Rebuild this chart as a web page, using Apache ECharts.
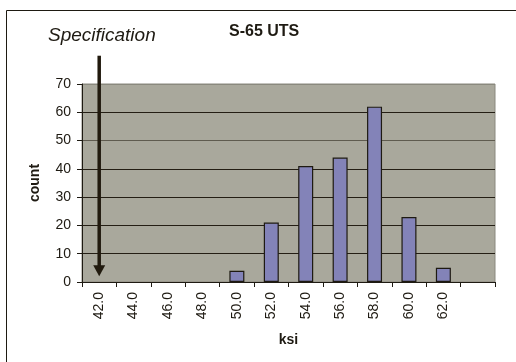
<!DOCTYPE html>
<html>
<head>
<meta charset="utf-8">
<script src="https://cdn.jsdelivr.net/npm/echarts@6/dist/echarts.min.js"></script>
<style>
  html, body { margin: 0; padding: 0; background: #ffffff; }
  #chart { width: 516px; height: 362px; }
</style>
</head>
<body>
<div id="chart"></div>
<script>
// Histogram bins (ksi) and counts per bin; the last bin is the open "more" bin
const bins = ['42.0', '44.0', '46.0', '48.0', '50.0', '52.0', '54.0', '56.0', '58.0', '60.0', '62.0', ''];
const counts = [0, 0, 0, 0, 4, 21, 41, 44, 62, 23, 5, 0];

// Count axis range
const countMin = 0;
const countMax = 70;
const countStep = 10;

// Specification marker: a downward arrow at the 42.0 bin
const specBin = '42.0';
const specFrom = 80;
const specTo = 4;

const FONT = '"Liberation Sans", Arial, sans-serif';
const INK = '#1e1a12';
const GRID_DARK = '#241e14';

const chart = echarts.init(document.getElementById('chart'), null, { renderer: 'canvas' });

// Empty bins keep their zero value but draw no outline
const barData = counts.map(v => ({
  value: v,
  itemStyle: v === 0 ? { borderWidth: 0 } : {}
}));

chart.setOption({
  animation: false,
  backgroundColor: '#ffffff',
  textStyle: { fontFamily: FONT, color: INK },
  title: {
    text: 'S-65 UTS',
    left: 229,
    top: 24,
    padding: 0,
    textStyle: { fontFamily: FONT, fontSize: 16, fontWeight: 'bold', color: INK }
  },
  graphic: [
    {
      type: 'rect',
      silent: true,
      z: -1,
      shape: { x: 6.5, y: 10.5, width: 600, height: 500 },
      style: { fill: 'none', stroke: INK, lineWidth: 1 }
    },
    {
      type: 'text',
      silent: true,
      style: {
        x: 48, y: 35.5,
        text: 'Specification',
        fontFamily: FONT, fontSize: 19, fontStyle: 'italic',
        fill: INK, verticalAlign: 'middle', align: 'left'
      }
    }
  ],
  grid: {
    left: 82, right: 21, top: 84, bottom: 80,
    show: true,
    backgroundColor: '#a9a89c',
    borderColor: '#8a897e',
    borderWidth: 1
  },
  xAxis: {
    type: 'category',
    data: bins,
    boundaryGap: true,
    name: 'ksi',
    nameLocation: 'middle',
    nameGap: 51,
    nameTextStyle: { fontFamily: FONT, fontSize: 14, fontWeight: 'bold', color: INK },
    axisLine: { lineStyle: { color: INK, width: 1 } },
    axisTick: { show: true, interval: 0, alignWithLabel: false, length: 5, lineStyle: { color: INK } },
    axisLabel: { interval: 0, rotate: 90, margin: 10, fontSize: 14, fontFamily: FONT, color: INK },
    splitLine: { show: false }
  },
  yAxis: {
    type: 'value',
    min: countMin,
    max: countMax,
    interval: countStep,
    name: 'count',
    nameLocation: 'middle',
    nameGap: 40,
    nameRotate: 90,
    nameTextStyle: { fontFamily: FONT, fontSize: 14, fontWeight: 'bold', color: INK },
    axisLine: { show: true, lineStyle: { color: INK, width: 1 } },
    axisTick: { show: true, length: 5, lineStyle: { color: INK } },
    axisLabel: { margin: 11, fontSize: 14, fontFamily: FONT, color: INK },
    splitLine: {
      show: true,
      lineStyle: {
        width: 1,
        color: [GRID_DARK, GRID_DARK, GRID_DARK, GRID_DARK, GRID_DARK, '#5f5b4f', GRID_DARK, '#8a897e']
      }
    }
  },
  series: [
    {
      type: 'bar',
      data: barData,
      barWidth: 15,
      itemStyle: { color: '#8383b8', borderColor: INK, borderWidth: 1.2 }
    },
    {
      type: 'line',
      clip: false,
      silent: true,
      z: 5,
      data: [
        { value: [specBin, specFrom], symbol: 'none' },
        { value: [specBin, specTo], symbol: 'triangle', symbolRotate: 180, symbolSize: [12, 11] }
      ],
      lineStyle: { color: '#211a0e', width: 3.5 },
      itemStyle: { color: '#211a0e' }
    }
  ]
});
</script>
</body>
</html>
